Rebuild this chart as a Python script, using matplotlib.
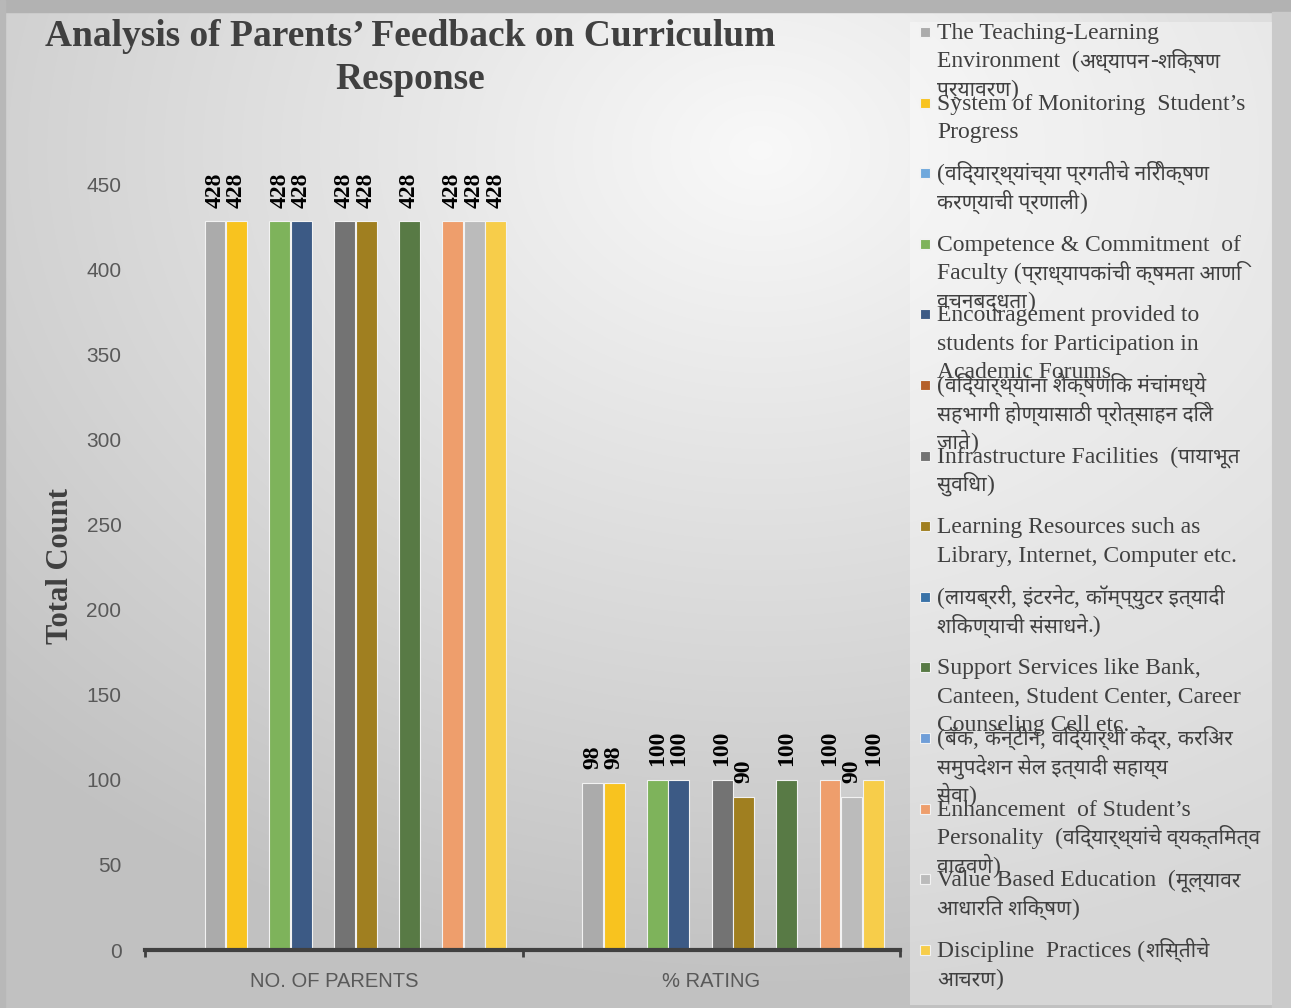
import re
import numpy as np
import matplotlib
matplotlib.use('Agg')
import matplotlib.pyplot as plt
from matplotlib import font_manager
from matplotlib.patches import Rectangle

# ---- data ----
categories = ['NO. OF PARENTS', '% RATING']
series_names = [
    'The Teaching-Learning\nEnvironment  (अध्यापन-शिक्षण\nपर्यावरण)',
    'System of Monitoring  Student’s\nProgress',
    '(विद्यार्थ्यांच्या प्रगतीचे निरीक्षण\nकरण्याची प्रणाली)',
    'Competence & Commitment  of\nFaculty (प्राध्यापकांची क्षमता आणि\nवचनबद्धता)',
    'Encouragement provided to\nstudents for Participation in\nAcademic Forums',
    '(विद्यार्थ्यांना शैक्षणिक मंचांमध्ये\nसहभागी होण्यासाठी प्रोत्साहन दिले\nजाते)',
    'Infrastructure Facilities  (पायाभूत\nसुविधा)',
    'Learning Resources such as\nLibrary, Internet, Computer etc.',
    '(लायब्ररी, इंटरनेट, कॉम्प्युटर इत्यादी\nशिकण्याची संसाधने.)',
    'Support Services like Bank,\nCanteen, Student Center, Career\nCounseling Cell etc.',
    '(बँक, कॅन्टीन, विद्यार्थी केंद्र, करिअर\nसमुपदेशन सेल इत्यादी सहाय्य\nसेवा)',
    'Enhancement  of Student’s\nPersonality  (विद्यार्थ्यांचे व्यक्तिमत्व\nवाढवणे)',
    'Value Based Education  (मूल्यावर\nआधारित शिक्षण)',
    'Discipline  Practices (शिस्तीचे\nआचरण)',
]
nan = np.nan
no_of_parents = [428, 428, nan, 428, 428, nan, 428, 428, nan, 428, nan, 428, 428, 428]
pct_rating = [98, 98, nan, 100, 100, nan, 100, 90, nan, 100, nan, 100, 90, 100]
colors = ['#ABABAB', '#F8C31F', '#6FA8DC', '#7EB35B', '#3C5A85', '#B5602A', '#737373',
          '#A07F20', '#3A73A8', '#587A45', '#6F9ED8', '#EE9E6C', '#BBBBBB', '#F7CD4A']
yticks = np.arange(0, 451, 50)

# fonts: serif + a font that can draw Devanagari
names = {f.name for f in font_manager.fontManager.ttflist}
deva = [f for f in ('Noto Sans Devanagari', 'Hind', 'Mukta') if f in names][:1]
if not deva:
    deva = sorted(f for f in names if 'Devanagari' in f)[:1]
serif = ['Liberation Serif'] + deva + ['DejaVu Sans']
deva_fam = deva + ['DejaVu Sans']

W, H = 1291, 1008
fig = plt.figure(figsize=(W / 100, H / 100), dpi=100)

# background gradient
bg = fig.add_axes([0, 0, 1, 1], zorder=-10)
yy, xx = np.mgrid[0:H, 0:W]
d = np.sqrt(((xx - 760) / W) ** 2 + ((yy - 150) / H) ** 2)
g = np.clip(0.975 - 0.26 * d, 0.76, 1)
bg.imshow(np.dstack([g, g, g]), aspect='auto', extent=[0, W, H, 0])
bg.add_patch(Rectangle((0, 0), W, 12, color='#b2b2b2'))
bg.add_patch(Rectangle((0, 0), 5, H, color='#b8b8b8'))
bg.add_patch(Rectangle((1272, 12), W - 1272, H, color='#cacaca'))
bg.add_patch(Rectangle((910, 22), 362, 983, color='white', alpha=0.35, lw=0))
bg.set_xlim(0, W)
bg.set_ylim(H, 0)
bg.axis('off')

ax = fig.add_axes([145 / W, 58 / H, 755 / W, 766 / H])
ax.set_facecolor('none')
n = len(series_names)
lead_empty = 2          # the chart keeps two empty slots before the first series
n_slots = n + lead_empty
slot = 0.915 / n_slots
x = np.arange(len(categories))
for i in range(n):
    vals = [no_of_parents[i], pct_rating[i]]
    pos = x + (i + lead_empty - (n_slots - 1) / 2) * slot
    bars = ax.bar(pos, vals, width=slot * 0.97, color=colors[i], edgecolor='#f2f2f2', linewidth=0.8)
    for b, v in zip(bars, vals):
        if np.isnan(v):
            continue
        ax.annotate(f'{v:.0f}', (b.get_x() + b.get_width() / 2, v), xytext=(0, 10),
                    textcoords='offset points', rotation=90, ha='center', va='bottom',
                    fontsize=17, fontweight='bold', family=serif, color='black')

ax.set_xlim(-0.5, 1.5)
ax.set_ylim(0, 450)
ax.set_yticks(yticks)
ax.set_xticks(x)
ax.set_xticklabels(categories)
ax.set_xticks([-0.5, 0.5, 1.5], minor=True)
ax.tick_params(axis='y', length=0, pad=17, labelsize=15, labelcolor='#595959')
ax.tick_params(axis='x', which='major', length=0, pad=16, labelsize=14.5, labelcolor='#595959')
ax.tick_params(axis='x', which='minor', length=5, width=2, color='#404040')
for lbl in ax.get_xticklabels() + ax.get_yticklabels():
    lbl.set_family(['Liberation Sans', 'DejaVu Sans'])
for s in ('top', 'right', 'left'):
    ax.spines[s].set_visible(False)
ax.spines['bottom'].set_color('#404040')
ax.spines['bottom'].set_linewidth(3)

fig.text(410 / W, 1 - 58 / H, 'Analysis of Parents’ Feedback on Curriculum\nResponse',
         ha='center', va='center', fontsize=27, fontweight='bold', family=serif,
         color='#404040', linespacing=1.3)
fig.text(60 / W, 1 - 566 / H, 'Total Count', rotation=90, ha='center', va='center',
         fontsize=22, fontweight='bold', family=serif, color='#404040')

# legend: one entry every ~70 px, lines at a fixed step; Devanagari runs a bit smaller
renderer = fig.canvas.get_renderer()
run_re = re.compile(r'[\u0900-\u097F]+(?:\s+[\u0900-\u097F]+)*|[^\u0900-\u097F]+')
for i, name in enumerate(series_names):
    yc = 32 + i * 70.6
    bg.add_patch(Rectangle((920, yc - 5), 10, 10, facecolor=colors[i], edgecolor='#f2f2f2', lw=0.8))
    for k, line in enumerate(name.split('\n')):
        xpos = 937
        for run in run_re.findall(line):
            is_deva = '\u0900' <= run[0] <= '\u097F'
            t = bg.text(xpos, yc + 7 + k * 28.5, run, ha='left', va='baseline',
                        fontsize=15 if is_deva else 17,
                        family=deva_fam if is_deva else serif, color='#404040')
            xpos += t.get_window_extent(renderer).width

fig.savefig('out.png', dpi=100)
